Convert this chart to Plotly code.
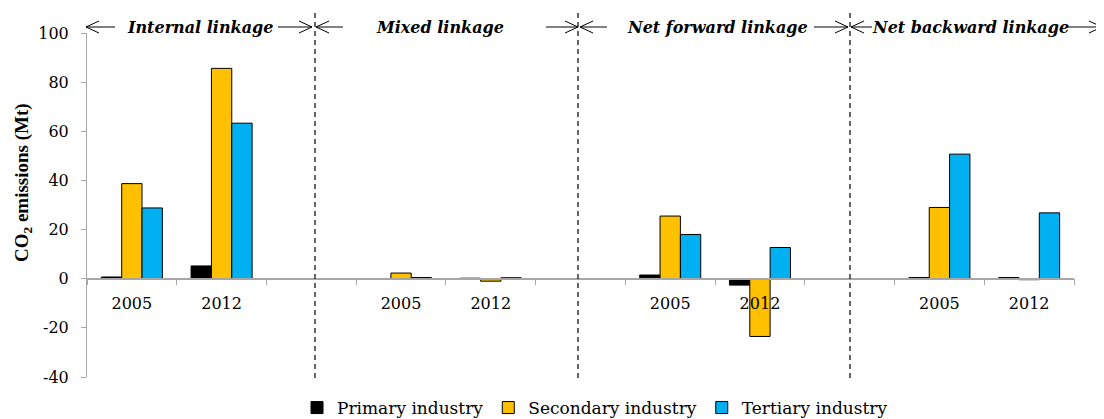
import plotly.graph_objects as go

# ---- data ----
tick_labels = ["2005", "2012", "", "2005", "2012", "", "2005", "2012", "", "2005", "2012"]
primary   = [0.7, 5.2, None, -0.2, 0.2, None, 1.5, -2.6, None, 0.5, 0.5]
secondary = [38.7, 85.6, None, 2.3, -1.0, None, 25.5, -23.5, None, 29.0, -0.4]
tertiary  = [28.8, 63.3, None, 0.5, 0.4, None, 18.0, 12.7, None, 50.7, 26.8]
series_names = ["Primary industry", "Secondary industry", "Tertiary industry"]
series_colors = ["#000000", "#FFC000", "#00B0F0"]
sections = ["Internal linkage", "Mixed linkage", "Net forward linkage", "Net backward linkage"]
y_ticks = [-40, -20, 0, 20, 40, 60, 80, 100]
y_tick_text = ["-40", "-20", "0", "20", "40", "60", "80", "100"]

# page has an 8px body margin: shrink figure and shift all pixel positions
O = 8
W, H = 1104 - O, 419 - O
L, R, T, B = 87 - O, 30, 33 - O, 419 - 377
PW, PH = W - L - R, H - T - B
def px(p):
    return (p - O - L) / PW
def py(p):
    return (H - B - (p - O)) / PH

FONT = "DejaVu Serif"
xs = list(range(len(tick_labels)))

fig = go.Figure()
for name, vals, col in zip(series_names, [primary, secondary, tertiary], series_colors):
    fig.add_trace(go.Bar(x=xs, y=vals, name=name,
                         marker=dict(color=col, line=dict(color="#000000", width=1))))

fig.update_layout(
    width=W, height=H, margin=dict(l=L, r=R, t=T, b=B, autoexpand=False),
    paper_bgcolor="white", plot_bgcolor="white",
    barmode="group", bargap=0.32, bargroupgap=0,
    font=dict(family=FONT, size=16, color="#000000"),
    showlegend=True,
    legend=dict(orientation="h", xref="container", yref="container",
                x=(595 - O) / W, xanchor="center", y=1 - (408 - O) / H, yanchor="middle",
                font=dict(family=FONT, size=17), traceorder="normal"),
)
fig.update_xaxes(
    range=[-0.5, len(xs) - 0.5], anchor="free", position=(0 - y_ticks[0]) / (y_ticks[-1] - y_ticks[0]),
    automargin=False,
    showline=True, linecolor="#A6A6A6", linewidth=1.5, showgrid=False, zeroline=False,
    tickmode="array", tickvals=[i for i, t in enumerate(tick_labels) if t],
    ticktext=[t for t in tick_labels if t], ticks="", ticklabelstandoff=10,
    tickfont=dict(family=FONT, size=16),
    minor=dict(tickmode="array", tickvals=[i - 0.5 for i in range(len(xs) + 1)],
               ticks="outside", ticklen=6, tickcolor="#A6A6A6", tickwidth=1, showgrid=False),
)
fig.update_yaxes(
    range=[y_ticks[0], y_ticks[-1]], tickmode="array", tickvals=y_ticks, ticktext=y_tick_text,
    automargin=False,
    showline=True, linecolor="#A6A6A6", linewidth=1, showgrid=False, zeroline=False,
    ticks="outside", ticklen=5, tickcolor="#A6A6A6", ticklabelstandoff=9,
    tickfont=dict(family=FONT, size=16),
)

# y-axis title
fig.add_annotation(text="<b>CO<sub>2</sub> emissions (Mt)</b>", textangle=-90,
                   xref="paper", yref="paper", x=px(23), y=py(183), xanchor="center", yanchor="middle",
                   showarrow=False, font=dict(family="Liberation Serif", size=19))

# section headers
hy = 27
centers = [200, 440, 717, 970]
for s, c in zip(sections, centers):
    fig.add_annotation(text="<b><i>" + s + "</i></b>", xref="paper", yref="paper",
                       x=px(c), y=py(hy + 1), xanchor="center", yanchor="middle",
                       showarrow=False, font=dict(family=FONT, size=16))

arrows = [(86, 115), (312, 278), (316, 343), (578, 546), (580, 607), (848, 814), (851, 872), (1102, 1068)]
for head, tail in arrows:
    d = 1 if head > tail else -1
    path = (f"M{px(tail)},{py(hy)} L{px(head)},{py(hy)} "
            f"M{px(head - d * 13)},{py(hy - 6)} L{px(head)},{py(hy)} L{px(head - d * 13)},{py(hy + 6)}")
    fig.add_shape(type="path", path=path, xref="paper", yref="paper",
                  line=dict(color="#000000", width=1))

# dashed separators
for xp in [315, 578, 850]:
    fig.add_shape(type="line", xref="paper", yref="paper", x0=px(xp), x1=px(xp),
                  y0=py(378), y1=py(10), line=dict(color="#000000", width=1.2, dash="5px,4px"))

fig.write_html("out.html")
